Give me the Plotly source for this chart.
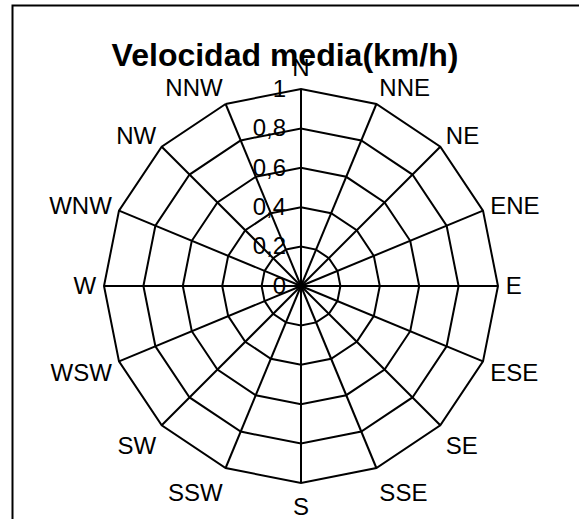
import plotly.graph_objects as go

# Wind directions (16-point compass rose) and mean speed per direction
directions = ["N", "NNE", "NE", "ENE", "E", "ESE", "SE", "SSE",
              "S", "SSW", "SW", "WSW", "W", "WNW", "NW", "NNW"]
mean_speed = [0, 0, 0, 0, 0, 0, 0, 0, 0, 0, 0, 0, 0, 0, 0, 0]
radial_ticks = [0, 0.2, 0.4, 0.6, 0.8, 1]

W, H = 579, 519
cx, cy, R = 301, 286, 197

fig = go.Figure()
fig.add_trace(go.Scatterpolar(
    r=mean_speed + [mean_speed[0]],
    theta=directions + [directions[0]],
    mode="lines",
    line=dict(color="black", width=2),
    showlegend=False,
    hoverinfo="skip",
))

fig.update_layout(
    width=W, height=H,
    margin=dict(l=0, r=0, t=0, b=0),
    paper_bgcolor="white",
    plot_bgcolor="white",
    separators=",.",
    font=dict(family="Liberation Sans, Arial, sans-serif", size=24, color="black"),
    title=dict(
        text="<b>Velocidad media(km/h)</b>",
        x=285 / W, xanchor="center",
        y=1 - 55 / H, yanchor="middle",
        xref="paper", yref="container",
        font=dict(size=32, color="black", family="Liberation Sans, Arial, sans-serif"),
    ),
    polar=dict(
        domain=dict(x=[(cx - R) / W, (cx + R) / W],
                    y=[1 - (cy + R) / H, 1 - (cy - R) / H]),
        gridshape="linear",
        bgcolor="white",
        angularaxis=dict(
            categoryarray=directions,
            categoryorder="array",
            direction="clockwise",
            rotation=90,
            showline=True,
            linecolor="black",
            linewidth=2,
            showgrid=True,
            gridcolor="black",
            gridwidth=2,
            ticks="outside",
            ticklen=2,
            tickcolor="rgba(0,0,0,0)",
            tickfont=dict(size=24),
        ),
        radialaxis=dict(
            range=[0, 1],
            tickvals=radial_ticks,
            ticktext=[str(v).replace(".", ",") for v in radial_ticks],
            angle=90,
            tickangle=90,
            side="counterclockwise",
            showline=False,
            showgrid=True,
            gridcolor="black",
            gridwidth=2,
            ticks="outside",
            ticklen=6,
            tickcolor="rgba(0,0,0,0)",
            tickfont=dict(size=24),
        ),
    ),
    shapes=[dict(
        type="rect", xref="paper", yref="paper",
        x0=12.5 / W, x1=1.05, y0=-0.05, y1=1 - 5.5 / H,
        line=dict(color="black", width=2),
        fillcolor="rgba(0,0,0,0)",
        layer="below",
    )],
)

fig.write_html("out.html")
